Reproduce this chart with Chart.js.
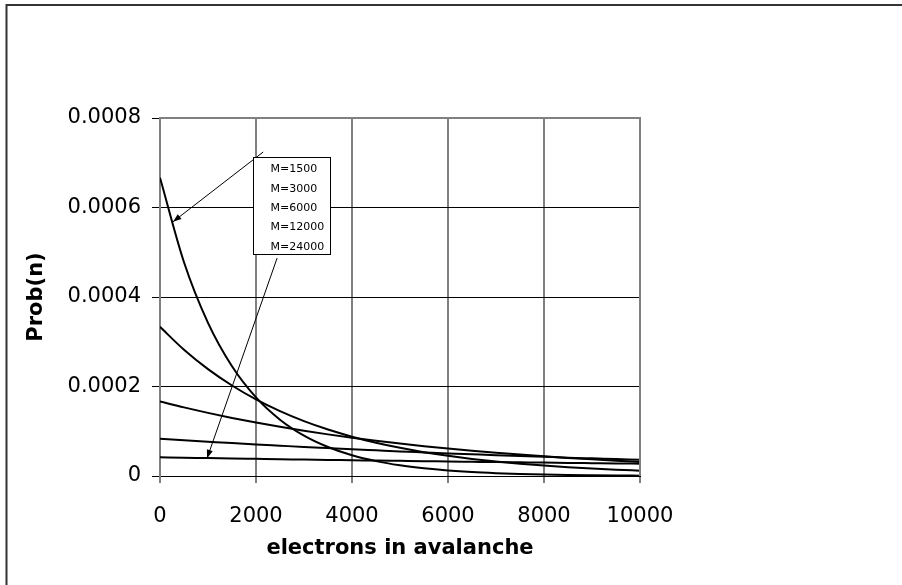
<!DOCTYPE html>
<html lang="en">
<head>
  <meta charset="UTF-8" />
  <title>Prob(n) vs electrons in avalanche</title>
  <style>
    body { margin: 0; background: #ffffff; }
    canvas { display: block; }
  </style>
</head>
<body>
  <canvas id="chart" width="902" height="585"></canvas>

  <script src="https://cdn.jsdelivr.net/npm/chart.js"></script>
  <script>
    // values
    const electrons = [0, 500, 1000, 1500, 2000, 2500, 3000, 3500, 4000, 4500, 5000,
                       5500, 6000, 6500, 7000, 7500, 8000, 8500, 9000, 9500, 10000];
    const seriesNames = ['M=1500', 'M=3000', 'M=6000', 'M=12000', 'M=24000'];
    const probM1500 = [6.667e-4, 4.777e-4, 3.423e-4, 2.453e-4, 1.757e-4, 1.259e-4, 9.02e-5, 6.47e-5, 4.63e-5, 3.32e-5, 2.38e-5,
                       1.71e-5, 1.22e-5, 8.7e-6, 6.3e-6, 4.5e-6, 3.2e-6, 2.3e-6, 1.7e-6, 1.2e-6, 8e-7];
    const probM3000 = [3.333e-4, 2.822e-4, 2.388e-4, 2.022e-4, 1.711e-4, 1.449e-4, 1.226e-4, 1.038e-4, 8.79e-5, 7.44e-5, 6.30e-5,
                       5.33e-5, 4.51e-5, 3.82e-5, 3.23e-5, 2.74e-5, 2.32e-5, 1.96e-5, 1.66e-5, 1.40e-5, 1.19e-5];
    const probM6000 = [1.667e-4, 1.533e-4, 1.411e-4, 1.298e-4, 1.194e-4, 1.099e-4, 1.011e-4, 9.30e-5, 8.56e-5, 7.87e-5, 7.24e-5,
                       6.66e-5, 6.13e-5, 5.64e-5, 5.19e-5, 4.78e-5, 4.39e-5, 4.04e-5, 3.72e-5, 3.42e-5, 3.15e-5];
    const probM12000 = [8.33e-5, 7.99e-5, 7.67e-5, 7.35e-5, 7.05e-5, 6.77e-5, 6.49e-5, 6.23e-5, 5.97e-5, 5.73e-5, 5.49e-5,
                        5.27e-5, 5.05e-5, 4.85e-5, 4.65e-5, 4.46e-5, 4.28e-5, 4.10e-5, 3.94e-5, 3.78e-5, 3.62e-5];
    const probM24000 = [4.17e-5, 4.08e-5, 4.00e-5, 3.91e-5, 3.83e-5, 3.75e-5, 3.68e-5, 3.60e-5, 3.53e-5, 3.45e-5, 3.38e-5,
                        3.31e-5, 3.25e-5, 3.18e-5, 3.11e-5, 3.05e-5, 2.99e-5, 2.92e-5, 2.86e-5, 2.80e-5, 2.75e-5];
    const allSeries = [probM1500, probM3000, probM6000, probM12000, probM24000];

    // annotation arrows, in data units: [fromX, fromY, toX, toY]
    const arrows = [
      [2150, 0.000724, 270, 0.000568],
      [2440, 0.000487, 980, 0.0000395]
    ];

    const FONT = "'DejaVu Sans', 'Liberation Sans', sans-serif";

    const frame = {
      id: 'frame',
      beforeDraw(chart) {
        const ctx = chart.ctx;
        ctx.save();
        ctx.strokeStyle = '#333333';
        ctx.lineWidth = 2;
        ctx.beginPath();
        ctx.moveTo(6.5, chart.height);
        ctx.lineTo(6.5, 5);
        ctx.lineTo(chart.width, 5);
        ctx.stroke();
        ctx.restore();
      },
      afterDraw(chart) {
        // plot area border: top and right in gray
        const a = chart.chartArea;
        const ctx = chart.ctx;
        ctx.save();
        ctx.strokeStyle = '#808080';
        ctx.lineWidth = 2;
        ctx.beginPath();
        ctx.moveTo(a.left, a.top);
        ctx.lineTo(a.right, a.top);
        ctx.lineTo(a.right, a.bottom);
        ctx.stroke();
        ctx.restore();
      }
    };

    const notes = {
      id: 'notes',
      afterDatasetsDraw(chart) {
        const ctx = chart.ctx;
        const xs = chart.scales.x, ys = chart.scales.y;
        ctx.save();
        // arrows
        ctx.strokeStyle = '#000';
        ctx.fillStyle = '#000';
        ctx.lineWidth = 1;
        arrows.forEach(([x0, y0, x1, y1]) => {
          const px0 = xs.getPixelForValue(x0), py0 = ys.getPixelForValue(y0);
          const px1 = xs.getPixelForValue(x1), py1 = ys.getPixelForValue(y1);
          const ang = Math.atan2(py1 - py0, px1 - px0);
          ctx.beginPath();
          ctx.moveTo(px0, py0);
          ctx.lineTo(px1, py1);
          ctx.stroke();
          ctx.beginPath();
          ctx.moveTo(px1, py1);
          ctx.lineTo(px1 - 9 * Math.cos(ang - 0.35), py1 - 9 * Math.sin(ang - 0.35));
          ctx.lineTo(px1 - 9 * Math.cos(ang + 0.35), py1 - 9 * Math.sin(ang + 0.35));
          ctx.closePath();
          ctx.fill();
        });
        // legend box
        const a = chart.chartArea;
        const bx = a.left + 93.5, by = a.top + 39.5, bw = 77, bh = 97;
        ctx.fillStyle = '#fff';
        ctx.fillRect(bx, by, bw, bh);
        ctx.strokeStyle = '#000';
        ctx.strokeRect(bx, by, bw, bh);
        ctx.fillStyle = '#000';
        ctx.font = '11px ' + FONT;
        ctx.textAlign = 'left';
        ctx.textBaseline = 'middle';
        chart.data.datasets.forEach((d, i) => {
          ctx.fillText(d.label, bx + 17, by + 12 + i * 19.3);
        });
        ctx.restore();
      }
    };

    const datasets = seriesNames.map((name, i) => ({
      label: name,
      data: electrons.map((n, j) => ({ x: n, y: allSeries[i][j] })),
      borderColor: '#000',
      borderWidth: 2,
      pointRadius: 0,
      fill: false,
      cubicInterpolationMode: 'monotone'
    }));

    new Chart(document.getElementById('chart'), {
      type: 'line',
      data: { datasets },
      options: {
        responsive: false,
        animation: false,
        devicePixelRatio: 1,
        layout: { padding: { left: 24, top: 118, right: 262, bottom: 20 } },
        plugins: { legend: { display: false }, tooltip: { enabled: false } },
        scales: {
          x: {
            type: 'linear',
            min: 0,
            max: 10000,
            ticks: { stepSize: 2000, color: '#000', padding: 21, font: { family: FONT, size: 21 },
                     callback: v => String(v) },
            grid: { color: '#808080', lineWidth: 2, tickLength: 7 },
            border: { color: '#000', width: 1 },
            title: { display: true, text: 'electrons in avalanche', color: '#000',
                     font: { family: FONT, size: 21, weight: 'bold' }, padding: { top: 0, bottom: 4 } },
            afterFit(s) { s.height = 89; }
          },
          y: {
            min: 0,
            max: 0.0008,
            ticks: {
              stepSize: 0.0002, color: '#000', padding: 11, font: { family: FONT, size: 21 },
              callback: v => v === 0 ? '0' : v.toFixed(4)
            },
            grid: { color: '#000', lineWidth: 1, tickLength: 8 },
            border: { color: '#808080', width: 2 },
            title: { display: true, text: 'Prob(n)', color: '#000',
                     font: { family: FONT, size: 21, weight: 'bold' }, padding: { top: 0, bottom: 0 } },
            afterFit(s) { s.width = 136; }
          }
        }
      },
      plugins: [frame, notes]
    });
  </script>
</body>
</html>
